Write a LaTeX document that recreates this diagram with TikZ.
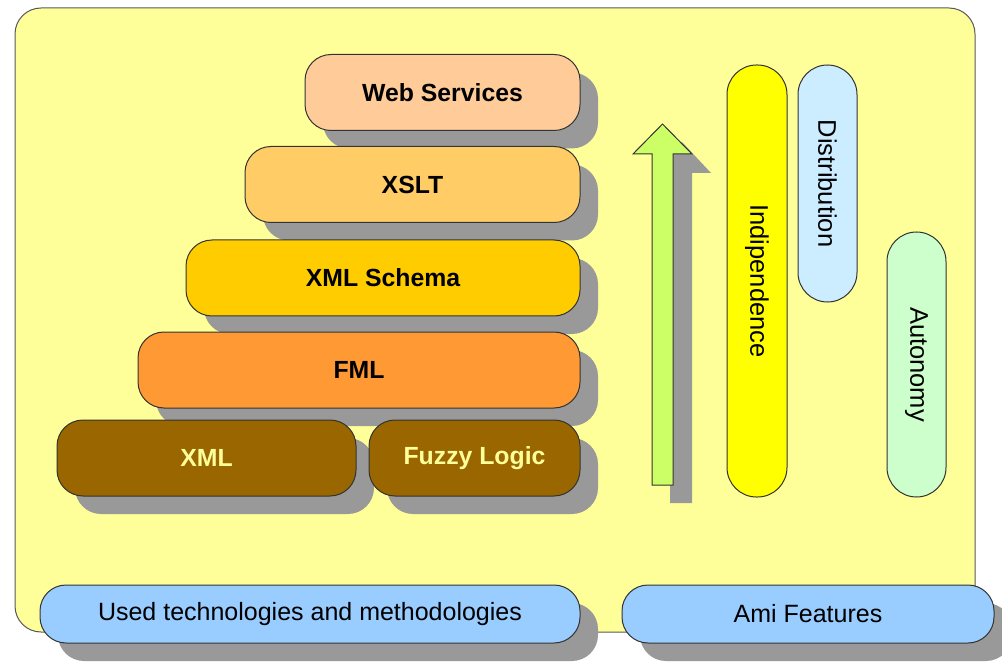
\documentclass[tikz,border=0pt]{standalone}
\usepackage{fontspec}
\setmainfont{Liberation Sans}
\usetikzlibrary{shadows}
\definecolor{bgyellow}{HTML}{FFFF99}
\definecolor{shadowgray}{HTML}{999999}
\definecolor{cweb}{HTML}{FFCC99}
\definecolor{cxslt}{HTML}{FFCC66}
\definecolor{cschema}{HTML}{FFCC00}
\definecolor{cfml}{HTML}{FF9933}
\definecolor{cxml}{HTML}{996600}
\definecolor{cxmltext}{HTML}{FFFF99}
\definecolor{cind}{HTML}{FFFF00}
\definecolor{cdist}{HTML}{CCECFF}
\definecolor{caut}{HTML}{CCFFCC}
\definecolor{cblue}{HTML}{99CCFF}
\definecolor{carrow}{HTML}{CCFF66}
\definecolor{outline}{HTML}{333333}
\tikzset{
  shad/.style={drop shadow={shadow xshift=18pt, shadow yshift=-18pt, fill=shadowgray, opacity=1}},
  stackbox/.style={draw=outline, line width=1pt, rounded corners=26pt, inner sep=0pt,
     minimum height=76pt, font=\fontsize{24.8}{28}\selectfont\bfseries, shad},
  vbox/.style={draw=outline, line width=1pt, rounded corners=29.5pt, inner sep=0pt,
     minimum height=59pt, font=\fontsize{25.5}{28}\selectfont, rotate=-90},
  basebox/.style={draw=outline, line width=1pt, rounded corners=26pt, inner sep=0pt,
     minimum height=58pt, fill=cblue, font=\fontsize{25}{28}\selectfont, shad},
}
\begin{document}
\begin{tikzpicture}[x=1pt,y=-1pt]
\useasboundingbox (0,0) rectangle (1002,663);
% background
\node[draw=gray!70!black, line width=1pt, fill=bgyellow, rounded corners=26pt,
      minimum width=960pt, minimum height=624pt, inner sep=0pt] (bg) at (495,320) {};
% stack
\node[stackbox, fill=cweb, minimum width=275pt] (web) at (442.5,92.5) {Web Services};
\node[stackbox, fill=cxslt, minimum width=335pt] (xslt) at (412.5,184.5) {XSLT};
\node[stackbox, fill=cschema, minimum width=394pt] (schema) at (383,278) {XML Schema};
\node[stackbox, fill=cfml, minimum width=442pt] (fml) at (359,370) {FML};
\node[stackbox, fill=cxml, text=cxmltext, minimum width=299pt] (xml) at (206.5,458) {XML};
\node[stackbox, fill=cxml, text=cxmltext, minimum width=211pt] (fuzzy) at (474.5,458) {Fuzzy Logic};
% arrow
\fill[shadowgray] (670,503) -- (692,503) -- (692,173) -- (711,173) -- (682,142) -- (652,173) -- (670,173) -- cycle;
\draw[draw=outline, line width=1pt, fill=carrow] (652,485) -- (673,485) -- (673,154) -- (692,154) -- (662.5,124) -- (633,154) -- (652,154) -- cycle;
% vertical boxes
\node[vbox, fill=cind, minimum width=432pt, minimum height=60pt] (ind) at (757,281) {Indipendence};
\node[vbox, fill=cdist, minimum width=237pt] (dist) at (827.5,183.5) {Distribution};
\node[vbox, fill=caut, minimum width=265pt] (aut) at (916.5,364.5) {Autonomy};
% base boxes
\node[basebox, minimum width=540pt] (used) at (310,614) {Used technologies and methodologies};
\node[basebox, minimum width=372pt] (ami) at (808,614) {Ami Features};
\end{tikzpicture}
\end{document}
